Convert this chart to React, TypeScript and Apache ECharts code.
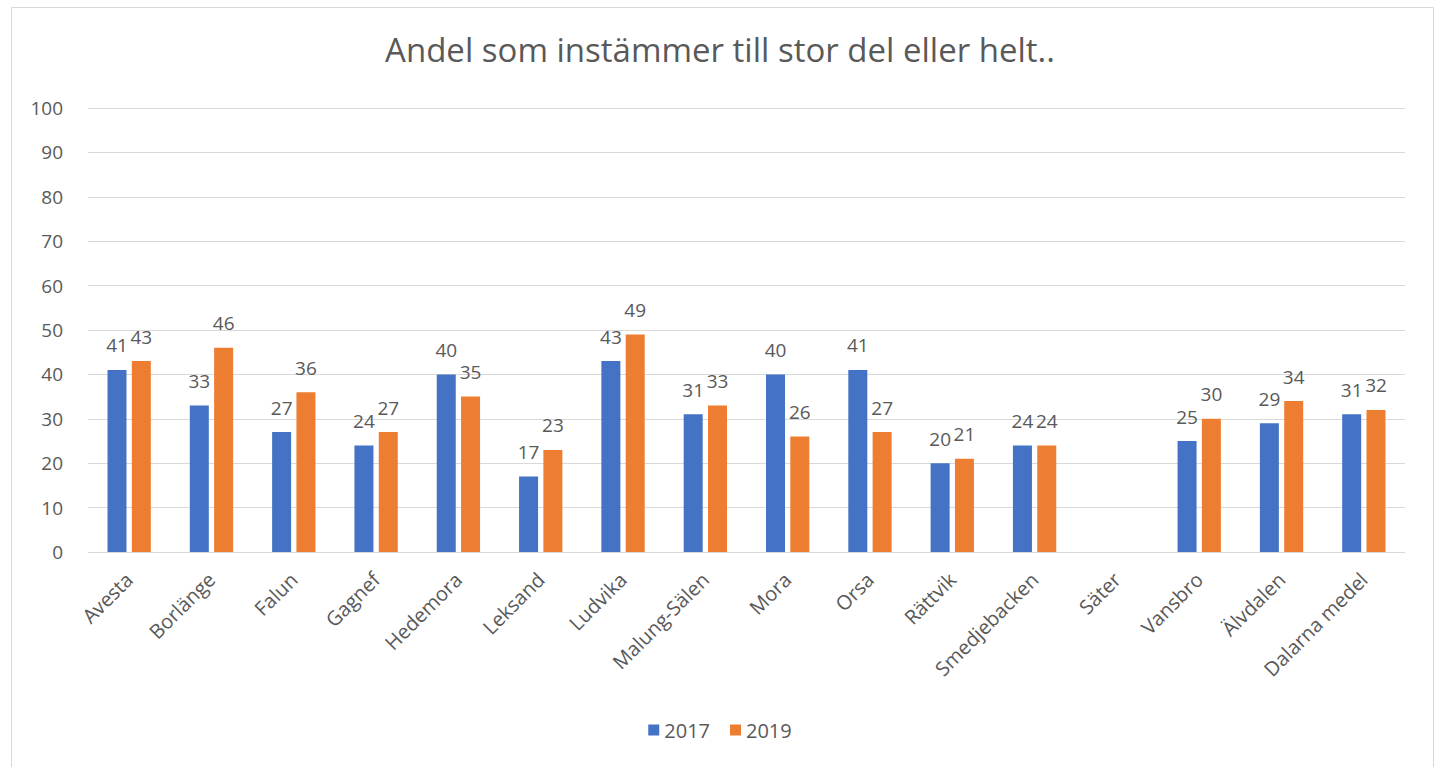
import React, { useEffect, useRef } from "react";
import * as echarts from "echarts";

const categories = [
  "Avesta", "Borlänge", "Falun", "Gagnef", "Hedemora", "Leksand", "Ludvika",
  "Malung-Sälen", "Mora", "Orsa", "Rättvik", "Smedjebacken", "Säter",
  "Vansbro", "Älvdalen", "Dalarna medel",
];
const values2017 = [41, 33, 27, 24, 40, 17, 43, 31, 40, 41, 20, 24, null, 25, 29, 31];
const values2019 = [43, 46, 36, 27, 35, 23, 49, 33, 26, 27, 21, 24, null, 30, 34, 32];
const seriesNames = ["2017", "2019"];
const titleText = "Andel som instämmer till stor del eller helt..";

const FONT = "'Open Sans', 'Noto Sans', sans-serif";
const GRAY = "#595959";

export default function App() {
  const ref = useRef<HTMLDivElement>(null);
  useEffect(() => {
    if (!ref.current) return;
    const chart = echarts.init(ref.current, undefined, { renderer: "svg" });
    const label = {
      show: true,
      position: "top" as const,
      distance: 15,
      color: GRAY,
      fontSize: 19,
      fontFamily: FONT,
    };
    chart.setOption({
      animation: false,
      backgroundColor: "#ffffff",
      textStyle: { fontFamily: FONT },
      title: {
        text: titleText,
        left: "center",
        top: 28,
        textStyle: { fontSize: 33, fontWeight: "normal", color: GRAY, fontFamily: FONT },
      },
      graphic: [
        {
          type: "rect",
          shape: { x: 11.5, y: 7.5, width: 1422, height: 770 },
          style: { fill: "none", stroke: "#d9d9d9", lineWidth: 1 },
          silent: true,
        },
      ],
      legend: {
        data: seriesNames,
        top: 715,
        left: "center",
        icon: "rect",
        itemWidth: 11,
        itemHeight: 11,
        itemGap: 20,
        textStyle: { fontSize: 20, color: GRAY, fontFamily: FONT },
      },
      grid: { left: 88, right: 35, top: 108, bottom: 215, containLabel: false },
      xAxis: {
        type: "category",
        data: categories,
        axisLine: { lineStyle: { color: "#d9d9d9" } },
        axisTick: { show: false },
        axisLabel: { rotate: 45, color: GRAY, fontSize: 20, fontFamily: FONT, margin: 24, interval: 0 },
      },
      yAxis: {
        type: "value",
        min: 0,
        max: 100,
        interval: 10,
        axisLine: { show: false },
        axisTick: { show: false },
        axisLabel: { color: GRAY, fontSize: 19, fontFamily: FONT, margin: 25 },
        splitLine: { lineStyle: { color: "#d9d9d9" } },
      },
      series: [
        {
          name: seriesNames[0],
          type: "bar",
          data: values2017,
          barWidth: 19,
          barGap: "28%",
          itemStyle: { color: "#4472C4" },
          label,
        },
        {
          name: seriesNames[1],
          type: "bar",
          data: values2019,
          barWidth: 19,
          barGap: "28%",
          itemStyle: { color: "#ED7D31" },
          label,
        },
      ],
    });
    return () => chart.dispose();
  }, []);
  return (
    <div style={{ position: "fixed", left: 0, top: 0, width: 1440, height: 767, background: "#fff" }}>
      <div ref={ref} style={{ width: 1440, height: 767 }} />
    </div>
  );
}
